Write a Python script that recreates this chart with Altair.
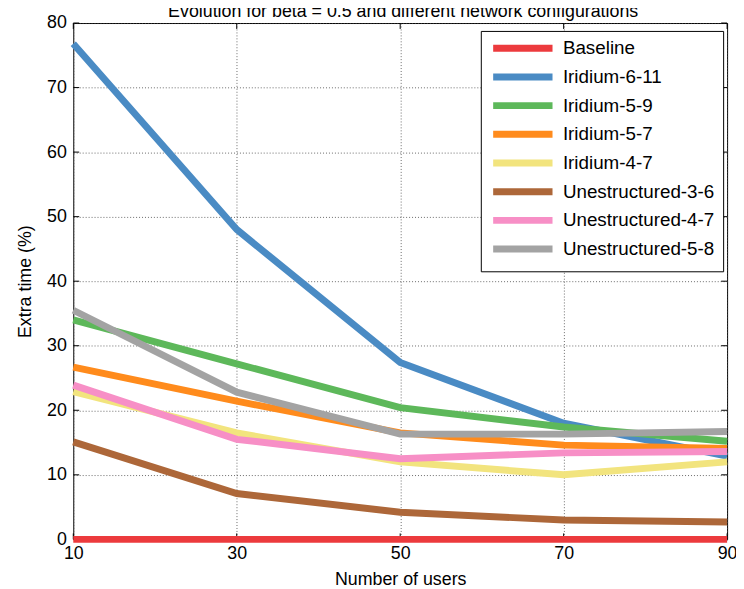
import altair as alt
import pandas as pd

users = [10, 30, 50, 70, 90]
series_names = ["Baseline", "Iridium-6-11", "Iridium-5-9", "Iridium-5-7", "Iridium-4-7",
                "Unestructured-3-6", "Unestructured-4-7", "Unestructured-5-8"]
baseline = [0, 0, 0, 0, 0]
iridium_6_11 = [76.8, 48.0, 27.4, 18.0, 12.9]
iridium_5_9 = [34.0, 27.2, 20.4, 17.4, 15.2]
iridium_5_7 = [26.7, 21.4, 16.5, 14.6, 14.1]
iridium_4_7 = [22.9, 16.5, 12.0, 10.0, 12.0]
unest_3_6 = [15.1, 7.1, 4.2, 3.0, 2.7]
unest_4_7 = [23.9, 15.5, 12.5, 13.4, 13.6]
unest_5_8 = [35.5, 22.8, 16.3, 16.3, 16.7]
colors = ["#ec3a3d", "#4a8bc4", "#5db85a", "#ff8b1c", "#f2e47e", "#ad6739", "#f78fc6", "#a3a3a3"]
y_ticks = [0, 10, 20, 30, 40, 50, 60, 70, 80]
x_ticks = [10, 30, 50, 70, 90]
title_text = "Evolution for beta = 0.5 and different network configurations"

all_series = [baseline, iridium_6_11, iridium_5_9, iridium_5_7, iridium_4_7,
              unest_3_6, unest_4_7, unest_5_8]
rows = []
for i, (name, vals) in enumerate(zip(series_names, all_series)):
    for u, v in zip(users, vals):
        rows.append({"users": u, "value": v, "series": name, "idx": i})
df = pd.DataFrame(rows)

W, H = 661, 522
FONT = "Liberation Sans"

xscale = alt.Scale(domain=[10, 90], nice=False, zero=False)
yscale = alt.Scale(domain=[0, 80], nice=False)

lines = alt.Chart(df).mark_line(strokeWidth=7, strokeCap="butt", strokeJoin="miter").encode(
    x=alt.X("users:Q", scale=xscale,
            axis=alt.Axis(values=x_ticks, title="Number of users", grid=True, ticks=False,
                          domain=False, labelPadding=5, titlePadding=9, labelFlush=False)),
    y=alt.Y("value:Q", scale=yscale,
            axis=alt.Axis(values=y_ticks, title="Extra time (%)", grid=True, ticks=False,
                          domain=False, labelPadding=7, titlePadding=12)),
    color=alt.Color("series:N", scale=alt.Scale(domain=series_names, range=colors),
                    sort=series_names,
                    legend=alt.Legend(title=None, orient="none", legendX=412, legendY=8,
                                      symbolType="M-6,0H6", symbolSize=100, symbolStrokeWidth=7,
                                      symbolOffset=25,
                                      labelFontSize=19, labelFont=FONT, labelColor="black",
                                      rowPadding=0, padding=8, labelOffset=31,
                                      strokeColor="black", fillColor="white",
                                      symbolOpacity=1)),
    order=alt.Order("idx:Q"),
    detail="series:N",
)

ydf = pd.DataFrame({"t": y_ticks})
xdf = pd.DataFrame({"t": x_ticks})
left_ticks = alt.Chart(ydf).mark_rule(color="black", strokeWidth=1).encode(
    y=alt.Y("t:Q", scale=yscale), x=alt.value(0), x2=alt.value(6))
right_ticks = alt.Chart(ydf).mark_rule(color="black", strokeWidth=1).encode(
    y=alt.Y("t:Q", scale=yscale), x=alt.value(W - 6), x2=alt.value(W))
bottom_ticks = alt.Chart(xdf).mark_rule(color="black", strokeWidth=1).encode(
    x=alt.X("t:Q", scale=xscale), y=alt.value(H - 6), y2=alt.value(H))
top_ticks = alt.Chart(xdf).mark_rule(color="black", strokeWidth=1).encode(
    x=alt.X("t:Q", scale=xscale), y=alt.value(0), y2=alt.value(6))

title = alt.Chart(pd.DataFrame({"t": [title_text]})).mark_text(
    fontSize=18, font=FONT, color="black", baseline="alphabetic", align="center"
).encode(text="t:N", x=alt.value(W / 2 + 3), y=alt.value(-6))

chart = alt.layer(left_ticks, right_ticks, bottom_ticks, top_ticks, lines, title).properties(
    width=W, height=H,
    background="white",
    autosize=alt.AutoSizeParams(type="none"),
    padding={"left": 66, "top": 12, "right": 9, "bottom": 47},
).configure_view(stroke="black", strokeWidth=1).configure_axis(
    labelFont=FONT, labelFontSize=18, labelColor="black",
    titleFont=FONT, titleFontSize=18, titleColor="black", titleFontWeight="normal",
    gridColor="#444", gridDash=[1, 2], gridWidth=1, gridOpacity=0.8,
)

chart.save("out.html", embed_options={"renderer": "svg", "actions": False})
